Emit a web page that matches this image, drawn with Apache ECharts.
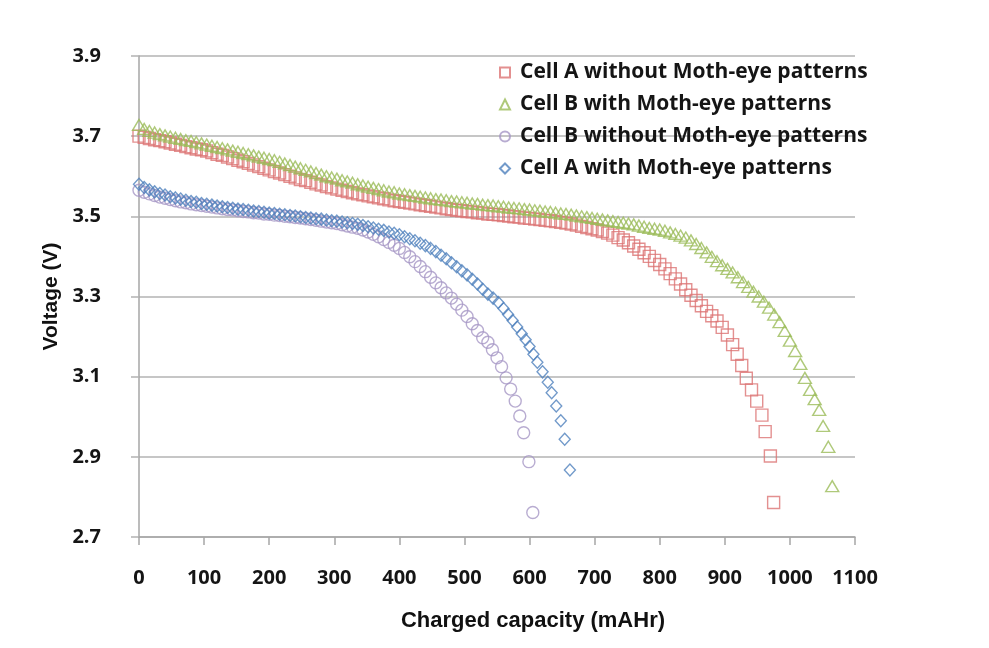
<!DOCTYPE html>
<html><head><meta charset="utf-8">
<script src="https://cdn.jsdelivr.net/npm/echarts@6/dist/echarts.min.js"></script>
<style>html,body{margin:0;padding:0;background:#fff}#c{width:989px;height:648px}</style>
</head><body><div id="c"></div>
<script>
const seriesNames = ["Cell A without Moth-eye patterns","Cell B with Moth-eye patterns","Cell B without Moth-eye patterns","Cell A with Moth-eye patterns"];
const xTicks = [0,100,200,300,400,500,600,700,800,900,1000,1100];
const yTicks = [2.7,2.9,3.1,3.3,3.5,3.7,3.9];

// Cell A without Moth-eye patterns: [capacity mAHr, voltage V]
const cellA_without = [[0,3.700],[8,3.697],[16,3.694],[24,3.691],[32,3.689],[40,3.686],[48,3.683],[56,3.680],[64,3.677],[72,3.674],[80,3.671],[88,3.668],[96,3.666],[104,3.663],[112,3.659],[120,3.655],[128,3.652],[136,3.648],[144,3.644],[152,3.640],[160,3.636],[168,3.632],[176,3.628],[184,3.624],[192,3.620],[200,3.616],[208,3.612],[216,3.608],[224,3.604],[232,3.600],[240,3.596],[248,3.592],[256,3.589],[264,3.585],[272,3.581],[280,3.578],[288,3.574],[296,3.571],[304,3.568],[312,3.565],[320,3.562],[328,3.559],[336,3.556],[344,3.554],[352,3.551],[360,3.549],[368,3.546],[376,3.544],[384,3.541],[392,3.539],[400,3.537],[408,3.535],[416,3.533],[424,3.531],[432,3.529],[440,3.527],[448,3.525],[456,3.523],[464,3.521],[472,3.519],[480,3.517],[488,3.515],[496,3.514],[504,3.512],[512,3.511],[520,3.509],[528,3.508],[536,3.506],[544,3.505],[552,3.504],[560,3.502],[568,3.501],[576,3.499],[584,3.498],[592,3.496],[600,3.495],[608,3.493],[616,3.492],[624,3.490],[632,3.489],[640,3.487],[648,3.485],[656,3.483],[664,3.481],[672,3.478],[680,3.475],[688,3.472],[696,3.469],[704,3.466],[712,3.462],[720,3.458],[728,3.453],[736,3.447],[744,3.441],[752,3.434],[760,3.426],[768,3.418],[776,3.409],[784,3.400],[792,3.390],[800,3.380],[808,3.369],[816,3.357],[824,3.344],[832,3.331],[840,3.317],[848,3.303],[856,3.290],[864,3.277],[872,3.263],[880,3.252],[888,3.239],[896,3.223],[904,3.204],[912,3.180],[919,3.156],[926,3.128],[933,3.096],[941,3.067],[949,3.039],[957,3.004],[962,2.963],[970,2.902],[975,2.786]];

// Cell B with Moth-eye patterns
const cellB_with = [[0,3.728],[8,3.718],[16,3.713],[24,3.709],[32,3.705],[40,3.702],[48,3.699],[56,3.696],[64,3.693],[72,3.690],[80,3.688],[88,3.685],[96,3.682],[104,3.679],[112,3.676],[120,3.673],[128,3.670],[136,3.667],[144,3.664],[152,3.661],[160,3.658],[168,3.655],[176,3.652],[184,3.649],[192,3.646],[200,3.643],[208,3.640],[216,3.636],[224,3.632],[232,3.628],[240,3.624],[248,3.620],[256,3.616],[264,3.612],[272,3.608],[280,3.604],[288,3.600],[296,3.597],[304,3.594],[312,3.590],[320,3.587],[328,3.584],[336,3.580],[344,3.577],[352,3.574],[360,3.571],[368,3.568],[376,3.565],[384,3.562],[392,3.560],[400,3.557],[408,3.555],[416,3.553],[424,3.551],[432,3.549],[440,3.547],[448,3.545],[456,3.543],[464,3.542],[472,3.540],[480,3.538],[488,3.537],[496,3.535],[504,3.534],[512,3.532],[520,3.531],[528,3.529],[536,3.528],[544,3.527],[552,3.525],[560,3.524],[568,3.522],[576,3.521],[584,3.520],[592,3.518],[600,3.517],[608,3.515],[616,3.514],[624,3.512],[632,3.511],[640,3.509],[648,3.507],[656,3.506],[664,3.504],[672,3.502],[680,3.500],[688,3.498],[696,3.496],[704,3.494],[712,3.492],[720,3.490],[728,3.488],[736,3.486],[744,3.484],[752,3.482],[760,3.480],[768,3.477],[776,3.474],[784,3.471],[792,3.469],[800,3.467],[808,3.464],[816,3.460],[824,3.456],[832,3.452],[840,3.447],[848,3.440],[856,3.431],[864,3.421],[872,3.410],[880,3.399],[888,3.388],[896,3.378],[904,3.369],[912,3.360],[920,3.348],[928,3.336],[936,3.324],[944,3.312],[952,3.300],[960,3.287],[968,3.272],[976,3.255],[984,3.236],[992,3.214],[1000,3.190],[1008,3.164],[1016,3.132],[1023,3.097],[1031,3.067],[1038,3.044],[1045,3.017],[1051,2.977],[1059,2.925],[1065,2.827]];

// Cell B without Moth-eye patterns
const cellB_without = [[0,3.565],[8,3.560],[16,3.556],[24,3.552],[32,3.548],[40,3.545],[48,3.542],[56,3.539],[64,3.536],[72,3.534],[80,3.531],[88,3.529],[96,3.527],[104,3.525],[112,3.523],[120,3.521],[128,3.519],[136,3.517],[144,3.516],[152,3.514],[160,3.512],[168,3.511],[176,3.509],[184,3.508],[192,3.506],[200,3.505],[208,3.503],[216,3.502],[224,3.500],[232,3.499],[240,3.497],[248,3.496],[256,3.494],[264,3.492],[272,3.490],[280,3.488],[288,3.486],[296,3.484],[304,3.482],[312,3.479],[320,3.476],[328,3.473],[336,3.470],[344,3.466],[352,3.461],[360,3.455],[368,3.449],[376,3.442],[384,3.435],[392,3.428],[400,3.420],[408,3.410],[416,3.399],[424,3.387],[432,3.375],[440,3.362],[448,3.348],[456,3.334],[464,3.322],[472,3.309],[480,3.296],[488,3.281],[496,3.266],[504,3.250],[512,3.232],[520,3.215],[528,3.197],[536,3.186],[543,3.167],[550,3.147],[557,3.125],[564,3.097],[571,3.069],[578,3.039],[585,3.002],[591,2.960],[599,2.888],[605,2.761]];

// Cell A with Moth-eye patterns
const cellA_with = [[0,3.580],[8,3.572],[16,3.566],[24,3.561],[32,3.557],[40,3.553],[48,3.549],[56,3.546],[64,3.543],[72,3.540],[80,3.537],[88,3.535],[96,3.532],[104,3.530],[112,3.528],[120,3.526],[128,3.524],[136,3.522],[144,3.520],[152,3.518],[160,3.517],[168,3.515],[176,3.513],[184,3.512],[192,3.510],[200,3.508],[208,3.507],[216,3.505],[224,3.504],[232,3.502],[240,3.501],[248,3.499],[256,3.497],[264,3.496],[272,3.494],[280,3.493],[288,3.491],[296,3.489],[304,3.488],[312,3.486],[320,3.484],[328,3.482],[336,3.480],[344,3.477],[352,3.474],[360,3.471],[368,3.468],[376,3.465],[384,3.461],[392,3.458],[400,3.454],[408,3.449],[416,3.444],[424,3.439],[432,3.433],[440,3.427],[448,3.420],[456,3.412],[464,3.403],[472,3.394],[480,3.384],[488,3.374],[496,3.364],[504,3.354],[512,3.343],[520,3.331],[528,3.318],[536,3.306],[544,3.296],[552,3.285],[560,3.270],[567,3.255],[574,3.240],[581,3.224],[588,3.207],[594,3.192],[600,3.175],[606,3.156],[612,3.136],[620,3.112],[628,3.086],[634,3.060],[641,3.027],[648,2.990],[654,2.944],[662,2.867]];

const chart = echarts.init(document.getElementById('c'), null, {renderer:'canvas'});
const colors = ['#dc7474','#9bbb59','#a697c6','#4f81bd'];
const symbols = ['rect','triangle','circle','diamond'];
const sizes = [[12,12],[13,11],[12,12],[11,12]];
const datas = [cellA_without, cellB_with, cellB_without, cellA_with];
const labelFont = 'Open Sans';
chart.setOption({
  animation:false,
  backgroundColor:'#fff',
  grid:{left:139,right:134,top:56,bottom:111,containLabel:false},
  legend:{
    orient:'vertical', left:494, top:57, itemWidth:10, itemHeight:10, itemGap:11,
    data:seriesNames,
    textStyle:{fontFamily:labelFont,fontWeight:'bold',fontSize:21,color:'#151515',padding:[0,0,0,5]}
  },
  xAxis:{
    type:'value', min:0, max:1100, interval:100,
    name:'Charged capacity (mAHr)', nameLocation:'middle', nameGap:73,
    nameTextStyle:{fontFamily:'Liberation Sans',fontWeight:'bold',fontSize:22,color:'#111',padding:[0,0,0,72]},
    axisLine:{show:true,lineStyle:{color:'#a6a6a6',width:1.5}},
    axisTick:{show:true,inside:false,length:8,lineStyle:{color:'#a6a6a6',width:1.5}},
    splitLine:{show:false},
    axisLabel:{margin:31,fontFamily:labelFont,fontWeight:'bold',fontSize:20,color:'#151515',
      formatter:v=>xTicks.includes(v)?String(v):''}
  },
  yAxis:{
    type:'value', min:2.7, max:3.9, interval:0.2,
    name:'Voltage (V)', nameLocation:'middle', nameGap:77,
    nameTextStyle:{fontFamily:'Liberation Sans',fontWeight:'bold',fontSize:21,color:'#111'},
    axisLine:{show:true,lineStyle:{color:'#a6a6a6',width:1.5}},
    axisTick:{show:true,inside:false,length:8,lineStyle:{color:'#b3b3b3',width:1.5}},
    splitLine:{show:true,lineStyle:{color:'#b3b3b3',width:1.5}},
    axisLabel:{margin:38,fontFamily:labelFont,fontWeight:'bold',fontSize:20,color:'#151515',
      formatter:v=>{const f=v.toFixed(1);return yTicks.some(t=>t.toFixed(1)===f)?f:'';}}
  },
  series: datas.map((d,i)=>({
    name:seriesNames[i], type:'scatter', data:d,
    symbol:symbols[i], symbolSize:sizes[i],
    itemStyle:{color:'rgba(255,255,255,0)',borderColor:colors[i],borderWidth:1.4},
    emphasis:{disabled:true}
  }))
});
</script></body></html>
